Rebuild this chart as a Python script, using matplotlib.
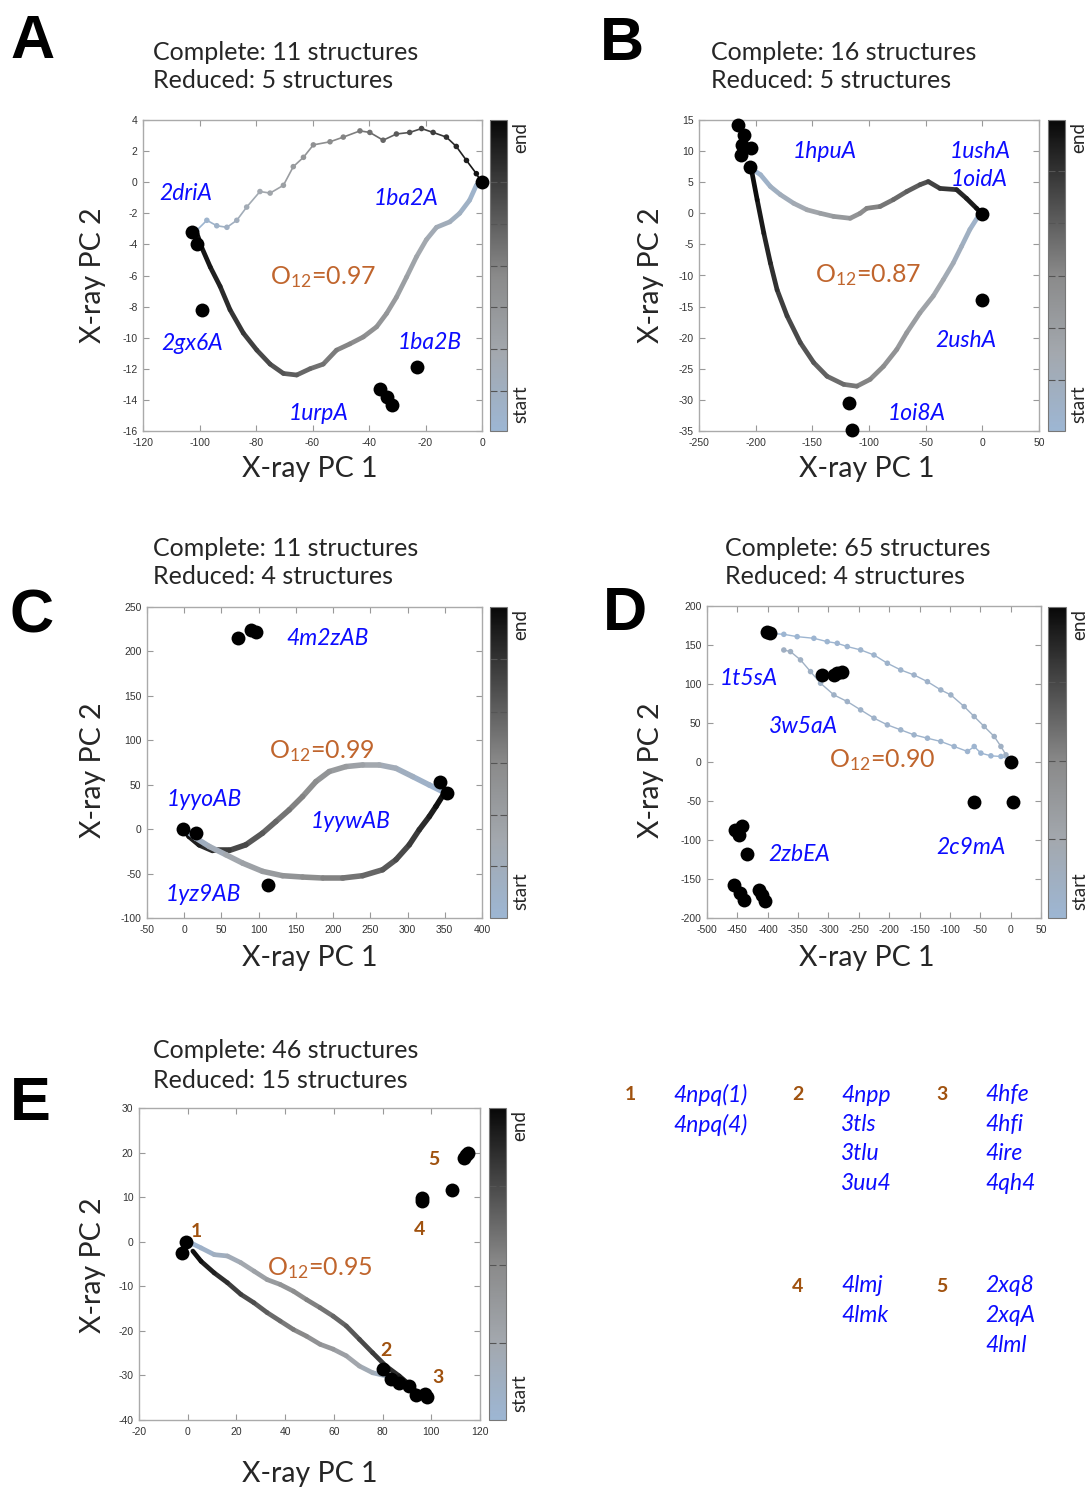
import numpy as np
import matplotlib.pyplot as plt
from matplotlib.collections import LineCollection
from matplotlib.colors import LinearSegmentedColormap
from matplotlib.cm import ScalarMappable

plt.rcParams['font.family'] = ['Lato', 'DejaVu Sans']
plt.rcParams['mathtext.default'] = 'regular'
plt.rcParams['axes.unicode_minus'] = False

W, H = 1087, 1490

# ---------------- panel A ----------------
a_fwd = [(-101, -3.1), (-97.4, -2.45), (-93.9, -2.8), (-90.3, -2.9), (-86.8, -2.45),
         (-83.3, -1.6), (-78.6, -0.6), (-75, -0.7), (-70.3, -0.2), (-66.8, 1.0),
         (-63.2, 1.6), (-59.7, 2.4), (-53.8, 2.6), (-49.1, 2.9), (-43.2, 3.3),
         (-39.7, 3.2), (-35, 2.7), (-30.3, 3.1), (-25.6, 3.2), (-21.4, 3.45),
         (-17.3, 3.2), (-12.6, 2.9), (-9.1, 2.3), (-5.5, 1.4), (-2.0, 0.55), (-0.2, 0.0)]
a_rev = [(0, 0), (-2, -0.2), (-4.4, -1.16), (-7.9, -2.0), (-11.4, -2.55), (-16.1, -2.9),
         (-19.7, -3.7), (-23.2, -4.8), (-26.7, -6.1), (-30.3, -7.4), (-33.8, -8.45),
         (-37.3, -9.3), (-42, -9.95), (-46.8, -10.4), (-51.5, -10.8), (-56.2, -11.7),
         (-60.9, -12.0), (-65.6, -12.4), (-70.3, -12.3), (-75, -11.7), (-79.7, -10.8),
         (-84.5, -9.7), (-89.2, -8.2), (-92.7, -6.7), (-96.2, -5.45), (-99.2, -4.2),
         (-100.9, -3.3)]
a_struct = [(-102.7, -3.2), (-100.9, -3.95), (-99.2, -8.2), (-36.2, -13.3),
            (-33.8, -13.8), (-32.0, -14.35), (-23, -11.9), (0, 0)]
a_names = ["2driA", "1ba2A", "2gx6A", "1ba2B", "1urpA"]
a_overlap = "0.97"
a_counts = (11, 5)

# ---------------- panel B ----------------
b_fwd = [(-204.5, 7.25), (-195.7, 6.2), (-187, 4.3), (-178.2, 3.0), (-166.4, 1.6),
         (-154.7, 0.56), (-143, 0.0), (-131.3, -0.5), (-116.6, -0.8), (-107.8, 0),
         (-102, 0.8), (-90.2, 1.1), (-78.5, 2.2), (-66.7, 3.5), (-55, 4.6),
         (-47.7, 5.1), (-37.4, 4.0), (-22.7, 3.8), (-14, 2.4), (-5.1, 0.8), (-0.7, 0)]
b_rev = [(-0.5, 0), (-3.7, -0.5), (-11, -2.6), (-18.3, -5.3), (-25.7, -8.0), (-34.5, -10.7),
         (-43.3, -13.3), (-55, -16), (-66.7, -19.2), (-75.5, -21.9), (-87.2, -24.6),
         (-99, -26.7), (-110.7, -27.8), (-122.4, -27.5), (-137, -26.2), (-148.8, -24),
         (-160.6, -20.8), (-172.3, -16.5), (-181.1, -12.3), (-187, -8), (-192.8, -3.2),
         (-198.7, 2.2), (-203.1, 6.4)]
b_struct = [(-215.7, 14.2), (-210.4, 12.6), (-211.9, 11.0), (-213.3, 9.4), (-204.5, 10.5),
            (-205, 7.4), (0, -0.1), (0, -14), (-117.4, -30.5), (-115, -34.8)]
b_names = ["1hpuA", "1ushA", "1oidA", "2ushA", "1oi8A"]
b_overlap = "0.87"
b_counts = (16, 5)

# ---------------- panel C ----------------
c_fwd = [(347, 42.3), (329, 49.8), (306.8, 59.2), (284.4, 68.5), (262, 72.3), (239.6, 72.3),
         (217.2, 70.4), (194.8, 64.8), (176.9, 53.5), (159, 36.7), (141, 21.7),
         (123.2, 8.6), (105.2, -4.5), (82.8, -17.6), (60.5, -24), (38, -24),
         (20.2, -17.6), (6.7, -8.2), (0, -0.7)]
c_rev = [(0, 0), (4.5, -2.6), (15.7, -10.1), (33.6, -19.5), (56, -28.8), (78.4, -38.2),
         (105.2, -47.5), (132.1, -52.4), (159, -53.9), (185.8, -55), (212.7, -55),
         (239.6, -52.4), (266.5, -45.7), (284.4, -34.4), (302.3, -17.6), (315.7, -0.7),
         (329.2, 14.2), (338.1, 25.5), (349.3, 40.4)]
c_struct = [(-1.3, 0), (15.7, -4.5), (71.6, 215.6), (89.6, 224.6), (96.3, 222),
            (112, -62.5), (343.5, 53.5), (352.4, 40.4)]
c_names = ["4m2zAB", "1yyoAB", "1yywAB", "1yz9AB"]
c_overlap = "0.99"
c_counts = (11, 4)

# ---------------- panel D ----------------
d_fwd = [(-398.2, 165), (-373.5, 163.7), (-351.5, 160.7), (-324, 158.6), (-302, 154.3),
         (-285.5, 152.2), (-269, 148), (-247, 143.7), (-225, 137.2), (-203, 126.6),
         (-181, 118), (-159, 111.6), (-137, 103), (-115, 92.4), (-98.5, 86),
         (-76.5, 71.1), (-60, 58.3), (-43.5, 45.5), (-27, 32.7), (-16, 19.9),
         (-7.7, 9.2), (0.5, 2.8)]
d_rev = [(-2.2, 3.7), (-16, 7.1), (-32.5, 7.9), (-49, 11.4), (-60, 19.9), (-71, 13.5),
         (-93, 19.9), (-115, 26.3), (-137, 30.5), (-159, 34.8), (-181, 41.2),
         (-203, 47.6), (-225, 56.2), (-247, 66.8), (-269, 77.5), (-291, 86),
         (-313, 101), (-329.5, 115.9), (-346, 130.9), (-362.5, 141.5), (-373.5, 143.6)]
d_struct = [(-402, 167.1), (-396.6, 165), (-310.2, 111.6), (-291, 111.6), (-277.2, 115.9),
            (-285.5, 113.7), (0.5, 0), (-61, -51.9), (3.3, -51.5), (-453.2, -86.8),
            (-442.2, -82.5), (-447.7, -93.2), (-434, -117.6), (-456, -157.3),
            (-445, -168), (-439.5, -176.5), (-414.8, -163.6), (-403.8, -178.6),
            (-409.3, -170)]
d_names = ["1t5sA", "3w5aA", "2zbEA", "2c9mA"]
d_overlap = "0.90"
d_counts = (65, 4)

# ---------------- panel E ----------------
e_fwd = [(0.7, -0.1), (5.5, -1.4), (10.9, -2.9), (16.3, -3.2), (21.8, -4.7), (27.2, -6.6),
         (32.6, -8.5), (38, -9.6), (43.4, -11.1), (48.8, -13), (54.3, -14.8),
         (59.7, -16.7), (65.1, -18.9), (70.5, -21.9), (75.9, -24.9), (81.4, -27.9),
         (86.8, -30.1), (90.9, -32), (93.6, -33.5)]
e_rev = [(93.6, -33.8), (86.8, -31.8), (81.4, -30.1), (75.9, -29.4), (70.5, -27.9),
         (65.1, -25.6), (59.7, -24.1), (54.3, -23), (48.8, -21.2), (43.4, -19.7),
         (38, -17.8), (32.6, -15.9), (27.2, -13.7), (21.8, -11.8), (16.3, -9.2),
         (10.9, -7), (5.5, -4.4), (2.1, -2.1)]
e_struct = [(-0.6, -0.1), (-2.2, -2.5), (80, -28.6), (83.4, -30.8), (86.8, -31.6),
            (90.9, -32.3), (93.6, -34.5), (97.6, -34.1), (98.3, -34.8), (96, 9.8),
            (96.3, 9.1), (108.5, 11.7), (113.6, 18.8), (115, 20), (114.2, 19.4)]
e_cluster_ids = ["1", "2", "3", "4", "5"]
e_overlap = "0.95"
e_counts = (46, 15)

# cluster members listed beside panel E
cluster_members = {
    "1": ["4npq(1)", "4npq(4)"],
    "2": ["4npp", "3tls", "3tlu", "3uu4"],
    "3": ["4hfe", "4hfi", "4ire", "4qh4"],
    "4": ["4lmj", "4lmk"],
    "5": ["2xq8", "2xqA", "4lml"],
}

BLUE = '#0d0dff'
BROWN = '#c0652d'
DARKBROWN = '#a0520f'
INK = '#262626'

cmap = LinearSegmentedColormap.from_list(
    'startend', ['#9db6d3', '#a3a8ae', '#8a8a8a', '#4a4a4a', '#080808'])

fig = plt.figure(figsize=(W / 100, H / 100), dpi=100)


def box(l, t, r, b):
    return [l / W, 1 - b / H, (r - l) / W, (b - t) / H]


def ftext(x, y, s, **kw):
    fig.text(x / W, 1 - y / H, s, **kw)


def trajectory(ax, pts, t0, t1, lw, dots):
    p = np.array(pts, dtype=float)
    t = np.linspace(t0, t1, len(p))
    segs = np.stack([p[:-1], p[1:]], axis=1)
    cols = cmap(0.5 * (t[:-1] + t[1:]))
    ax.add_collection(LineCollection(segs, colors=cols, linewidths=lw,
                                     capstyle='round', joinstyle='round', zorder=2))
    if dots:
        ax.scatter(p[:, 0], p[:, 1], s=16, c=cmap(t), zorder=2, linewidths=0)


def panel(ax_px, cb_px, xticks, yticks, cb_ticks):
    ax = fig.add_axes(box(*ax_px))
    ax.set_xlim(xticks[0], xticks[-1])
    ax.set_ylim(yticks[0], yticks[-1])
    ax.set_xticks(xticks)
    ax.set_yticks(yticks)
    ax.tick_params(direction='in', top=True, right=True, length=4, width=0.8,
                   labelsize=7.5, colors='#999999', labelcolor='#333333')
    ax.tick_params(axis='x', pad=5)
    ax.tick_params(axis='y', pad=4)
    for sp in ax.spines.values():
        sp.set_color('#aaaaaa')
        sp.set_linewidth(1.0)
    for lab in ax.get_xticklabels() + ax.get_yticklabels():
        lab.set_fontfamily('Liberation Sans')

    cax = fig.add_axes(box(*cb_px))
    sm = ScalarMappable(cmap=cmap, norm=plt.Normalize(0, 1))
    cb = fig.colorbar(sm, cax=cax)
    cb.outline.set_edgecolor('#777777')
    cb.outline.set_linewidth(0.8)
    cb.set_ticks(cb_ticks)
    cax.tick_params(axis='y', left=True, right=True, direction='in', length=5,
                    width=0.8, color='#555555', labelleft=False, labelright=False)
    cx = cb_px[2] + 14
    ftext(cx, cb_px[1] + 2, 'end', rotation=90, ha='center', va='top',
          fontsize=13.5, color=INK)
    ftext(cx, cb_px[3] - 8, 'start', rotation=90, ha='center', va='bottom',
          fontsize=13.5, color=INK)
    return ax


def decorate(letter, lxy, counts, txy, ylab_x, ylab_y, xlab_x, xlab_y):
    ftext(lxy[0], lxy[1], letter, fontsize=44, fontweight='bold',
          family='Liberation Sans', ha='center', va='center')
    ftext(txy[0], txy[1], f"Complete: {counts[0]} structures", fontsize=18,
          ha='left', va='center', color=INK)
    ftext(txy[0], txy[1] + 29, f"Reduced: {counts[1]} structures", fontsize=18,
          ha='left', va='center', color=INK)
    ftext(ylab_x, ylab_y, "X-ray PC 2", fontsize=20.5,
          rotation=90, ha='center', va='center', color=INK)
    ftext(xlab_x, xlab_y, "X-ray PC 1", fontsize=20.5,
          ha='center', va='center', color=INK)


def structures(ax, pts):
    p = np.array(pts, dtype=float)
    ax.scatter(p[:, 0], p[:, 1], s=100, c='black', zorder=3, linewidths=0, clip_on=False)


def names(ax, labels, positions):
    for s, (x, y) in zip(labels, positions):
        ax.text(x, y, s, color=BLUE, fontsize=16.5, style='italic',
                ha='center', va='center', zorder=4)


def overlap(ax, val, x, y):
    ax.text(x, y, f"O$_{{12}}$={val}", color=BROWN, fontsize=18,
            ha='center', va='center', zorder=4)


# ---- A ----
ax = panel((143, 120, 482, 431), (490, 120, 507, 431),
           list(range(-120, 1, 20)), list(range(-16, 5, 2)),
           [0.129, 0.263, 0.398, 0.532, 0.667, 0.80])
trajectory(ax, a_fwd, 0.0, 1.0, 1.2, True)
trajectory(ax, a_rev, 0.0, 1.0, 3.4, False)
structures(ax, a_struct)
names(ax, a_names, [(-105, -0.7), (-27, -1.05), (-102.7, -10.4), (-18.5, -10.3), (-58, -14.9)])
overlap(ax, a_overlap, -56.2, -6.1)
decorate('A', (33, 43), a_counts, (153, 52), 93, 275, 310, 469)

# ---- B ----
ax = panel((699, 120, 1039, 431), (1048, 120, 1065, 431),
           list(range(-250, 51, 50)), list(range(-35, 16, 5)),
           [0.164, 0.332, 0.5, 0.668, 0.836])
trajectory(ax, b_fwd, 0.0, 1.0, 3.4, False)
trajectory(ax, b_rev, 0.0, 1.0, 3.4, False)
structures(ax, b_struct)
names(ax, b_names, [(-139.4, 9.9), (-2.2, 9.9), (-3.1, 5.4), (-14.5, -20.4), (-57.9, -32.2)])
overlap(ax, b_overlap, -101, -10.0)
decorate('B', (622, 45), b_counts, (711, 52), 651, 275, 867, 469)

# ---- C ----
ax = panel((147, 607, 482, 918), (490, 607, 507, 918),
           list(range(-50, 401, 50)), list(range(-100, 251, 50)),
           [0.166, 0.332, 0.497, 0.663, 0.834])
trajectory(ax, c_fwd, 0.0, 1.0, 4.0, False)
trajectory(ax, c_rev, 0.0, 1.0, 4.0, False)
structures(ax, c_struct)
names(ax, c_names, [(192.6, 214.5), (26.9, 33.7), (223, 8.6), (25.5, -73.8)])
overlap(ax, c_overlap, 185, 87.5)
decorate('C', (32, 617), c_counts, (153, 548), 93, 770, 310, 958)

# ---- D ----
ax = panel((707, 606, 1041, 918), (1048, 607, 1066, 918),
           list(range(-500, 51, 50)), list(range(-200, 201, 50)),
           [0.254, 0.506, 0.759])
structures(ax, d_struct)
trajectory(ax, d_fwd, 0.0, 0.12, 1.0, True)
trajectory(ax, d_rev, 0.0, 0.12, 1.0, True)
names(ax, d_names, [(-431.2, 107.4), (-341.6, 45.5), (-348.7, -118.9), (-65.5, -109)])
overlap(ax, d_overlap, -211.2, 2.8)
decorate('D', (625, 615), d_counts, (725, 548), 651, 770, 867, 958)

# ---- E ----
ax = panel((139, 1108, 480, 1420), (489, 1108, 506, 1420),
           list(range(-20, 121, 20)), list(range(-40, 31, 10)),
           [0.246, 0.497, 0.749])
trajectory(ax, e_fwd, 0.0, 1.0, 3.4, False)
trajectory(ax, e_rev, 0.0, 1.0, 3.4, False)
structures(ax, e_struct)
for s, (x, y) in zip(e_cluster_ids, [(3.5, 2.4), (81.4, -24.5), (102.6, -30.5),
                                     (95.2, 2.7), (101, 18.4)]):
    ax.text(x, y, s, color=DARKBROWN, fontsize=14, fontweight='bold',
            ha='center', va='center', zorder=4)
overlap(ax, e_overlap, 54.3, -5.8)
decorate('E', (30, 1105), e_counts, (153, 1051), 93, 1265, 310, 1474)

# cluster membership table
table_pos = {"1": (630, 673, 1095), "2": (798, 841, 1095), "3": (942, 985, 1095),
             "4": (798, 841, 1286), "5": (942, 985, 1286)}
for cid, members in cluster_members.items():
    nx, mx, y0 = table_pos[cid]
    ftext(nx, y0, cid, color=DARKBROWN, fontsize=14, fontweight='bold',
          ha='center', va='center')
    for i, m in enumerate(members):
        ftext(mx, y0 + 29.5 * i, m, color=BLUE, fontsize=16.5, style='italic',
              ha='left', va='center')

fig.savefig('out.png', dpi=100)
